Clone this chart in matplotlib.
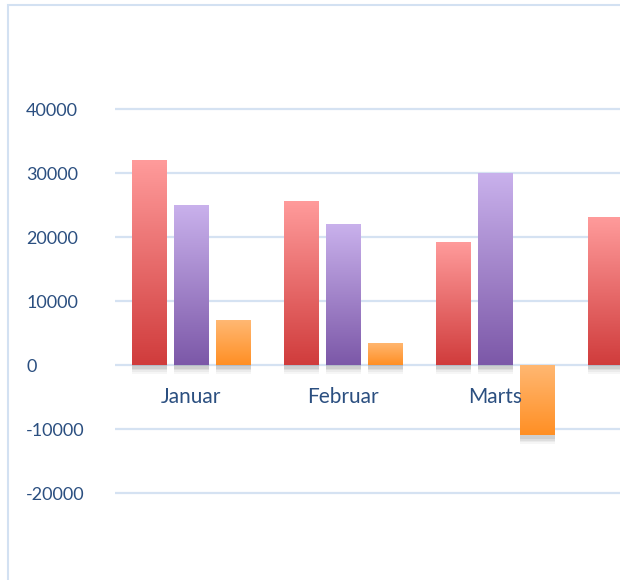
import numpy as np
import matplotlib.pyplot as plt
import matplotlib.transforms as mtransforms
from matplotlib.colors import LinearSegmentedColormap
from matplotlib.patches import Rectangle

plt.rcParams['font.family'] = ['Lato', 'DejaVu Sans']

maaneder = ['Januar', 'Februar', 'Marts', 'April']
serie_a = [32000, 25600, 19200, 23100]
serie_b = [25000, 22000, 30000, np.nan]
serie_c = [7000, 3500, -11000, np.nan]
y_ticks = [-20000, -10000, 0, 10000, 20000, 30000, 40000]

# gradient top (light) -> bottom (dark)
farver = [('#ff9b9b', '#d03c3c'), ('#c9b1ec', '#7c58a8'), ('#ffb873', '#ff8f24')]
tekst_farve = '#2b4f80'
grid_farve = '#d5e2f2'

fig = plt.figure(figsize=(6.2, 5.8), dpi=100)
ax = fig.add_axes([115 / 620, 23 / 580, 505 / 620, 512 / 580])

x = np.arange(len(maaneder))
bredde = 35 / 152
afstand = 42 / 152

for i, (vals, (lys, mork)) in enumerate(zip([serie_a, serie_b, serie_c], farver)):
    cmap = LinearSegmentedColormap.from_list('g%d' % i, [lys, mork])
    bars = ax.bar(x + (i - 1) * afstand, vals, bredde, color='none', zorder=3)
    for b in bars:
        h = b.get_height()
        if np.isnan(h):
            continue
        x0, w = b.get_x(), b.get_width()
        y0, y1 = min(0, h), max(0, h)
        # soft shadow below the bar
        for k, a in enumerate([0.11, 0.09, 0.07, 0.05]):
            dy = 600 + k * 250
            ax.add_patch(Rectangle((x0 + 0.005, y0 - dy), w, y1 - y0, color='#606060',
                                   alpha=a, lw=0, zorder=2))
        grad = np.linspace(0, 1, 256).reshape(-1, 1)
        im = ax.imshow(grad, cmap=cmap, aspect='auto', extent=(x0, x0 + w, y0, y1),
                       origin='upper', zorder=3)
        im.set_clip_path(b)

ax.set_xlim(-0.5, -0.5 + 505 / 152)
ax.set_ylim(-30000, 50000)

for yt in y_ticks:
    ax.axhline(yt, color=grid_farve, lw=1.6, zorder=1)

ax.set_xticks([])
ax.set_yticks(y_ticks)
ax.set_yticklabels([str(v) for v in y_ticks], ha='left', fontsize=13, color=tekst_farve)
ax.tick_params(axis='y', length=0, pad=64)
for s in ax.spines.values():
    s.set_visible(False)

# category labels, only those whose centre lies inside the visible range
offset = mtransforms.ScaledTranslation(0, -0.32, fig.dpi_scale_trans)
for xi, navn in zip(x, maaneder):
    if xi + 0.3 > ax.get_xlim()[1]:
        continue
    ax.text(xi, 0, navn, transform=ax.transData + offset, ha='center', va='center',
            fontsize=15, color=tekst_farve, zorder=5)

# chart frame
fig.patches.append(Rectangle((8 / 620, -0.05), 1.1, (575 + 29) / 580, transform=fig.transFigure,
                             fill=False, edgecolor='#d3e1f2', lw=1.5))

fig.savefig('out.png', dpi=100)
